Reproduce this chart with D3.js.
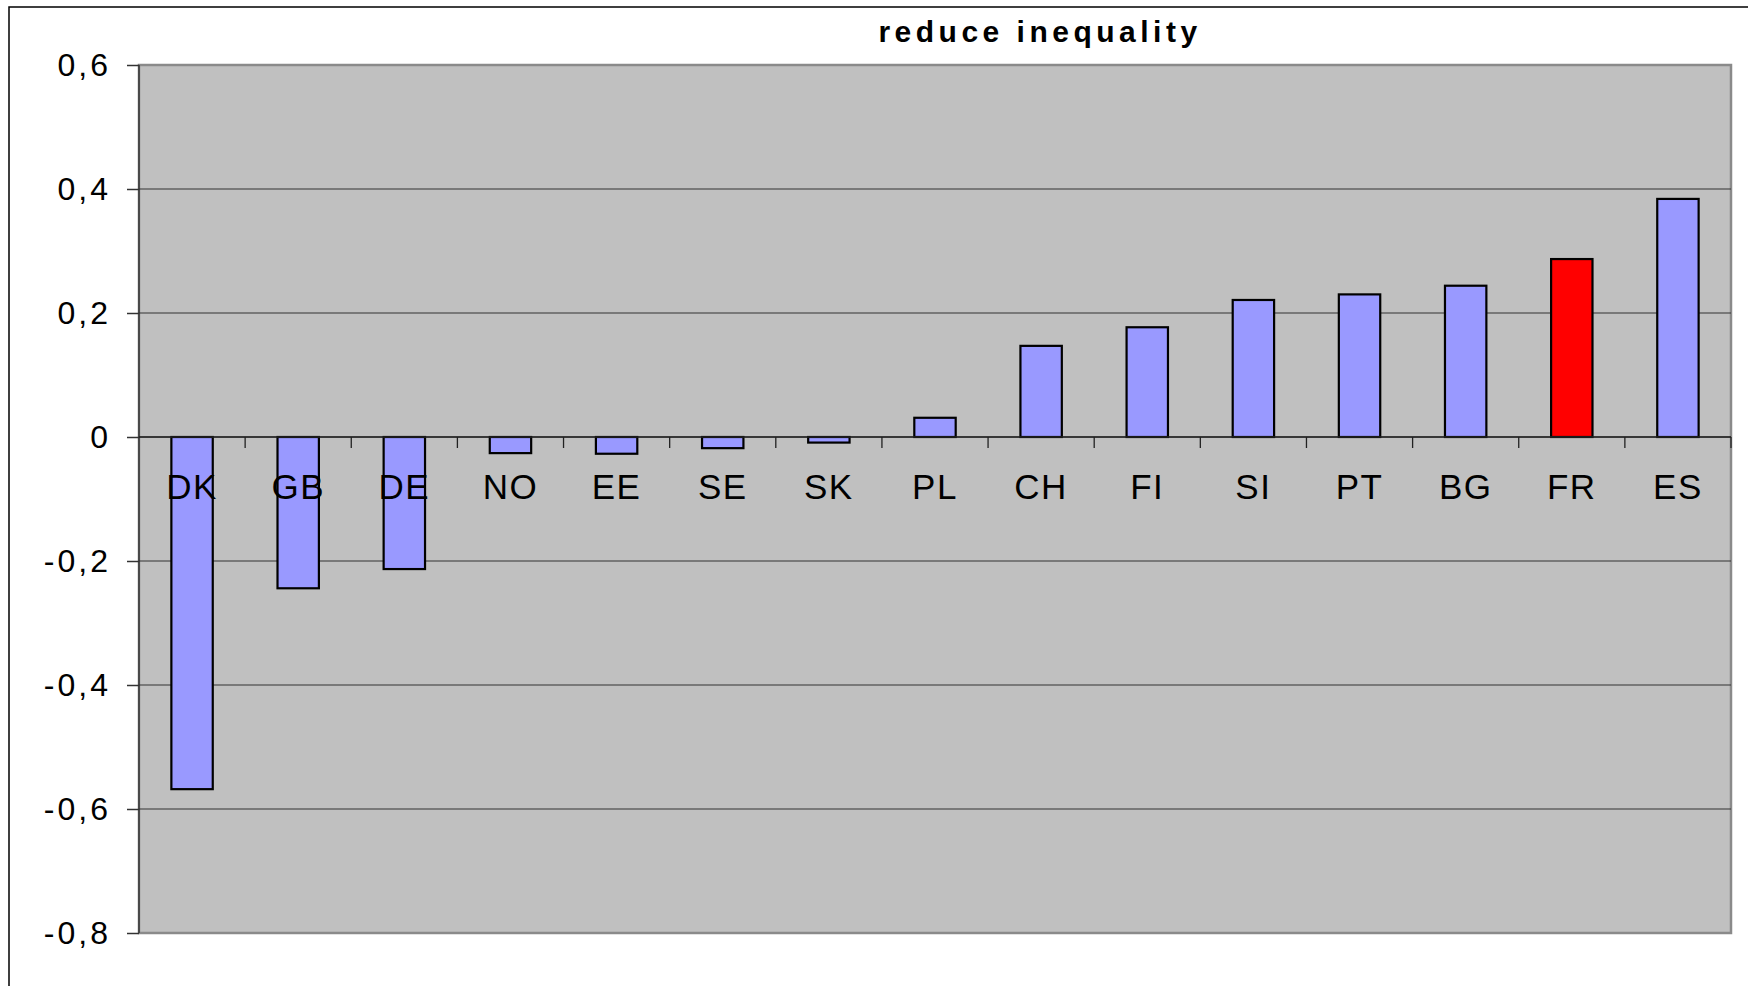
<!DOCTYPE html>
<html>
<head>
<meta charset="utf-8">
<script src="https://cdn.jsdelivr.net/npm/d3@7"></script>
<style>
  body { margin: 0; background: #fff; }
  text { font-family: Arial, "Liberation Sans", sans-serif; }
</style>
</head>
<body>
<div id="chart"></div>
<script>
// data
var countries = ["DK", "GB", "DE", "NO", "EE", "SE", "SK", "PL", "CH", "FI", "SI", "PT", "BG", "FR", "ES"];
var values = [-0.568, -0.244, -0.213, -0.026, -0.027, -0.018, -0.009, 0.031, 0.147, 0.177, 0.221, 0.230, 0.244, 0.287, 0.384];
var highlight = ["FR"];
var yTicks = [0.6, 0.4, 0.2, 0, -0.2, -0.4, -0.6, -0.8];
var title = "reduce inequality";

var cfg = {
  w: 1748,
  h: 986,
  margin: {top: 65, right: 17, bottom: 53, left: 139},
  barFill: "#9999ff",
  hiFill: "#ff0000",
  plotFill: "#c0c0c0"
};

var graphW = cfg.w - cfg.margin.left - cfg.margin.right;
var graphH = cfg.h - cfg.margin.top - cfg.margin.bottom;

var root = d3.select("#chart")
  .append("svg")
  .attr("width", cfg.w)
  .attr("height", cfg.h);

// outer frame (only top and left edges visible in the picture)
root.append("rect")
  .attr("x", 9).attr("y", 7)
  .attr("width", cfg.w + 20).attr("height", cfg.h + 20)
  .attr("fill", "none")
  .attr("stroke", "#000")
  .attr("stroke-width", 1.5);

var svg = root.append("g")
  .attr("transform", "translate(" + cfg.margin.left + "," + cfg.margin.top + ")");

var x = d3.scaleBand()
  .domain(countries)
  .range([0, graphW])
  .paddingInner(0.61)
  .paddingOuter(0.305);

var xBand = d3.scaleBand().domain(countries).range([0, graphW]);

var y = d3.scaleLinear()
  .domain([-0.8, 0.6])
  .range([graphH, 0]);

// plot background
svg.append("rect")
  .attr("width", graphW).attr("height", graphH)
  .attr("fill", cfg.plotFill)
  .attr("stroke", "#8a8a8a")
  .attr("stroke-width", 2.5);

// gridlines
svg.append("g")
  .selectAll("line")
  .data(yTicks.filter(function(d) { return d !== 0.6 && d !== -0.8; }))
  .enter().append("line")
  .attr("x1", 0).attr("x2", graphW)
  .attr("y1", function(d) { return y(d); })
  .attr("y2", function(d) { return y(d); })
  .attr("stroke", "#333")
  .attr("stroke-width", 1.2);

// Y axis
var yAxis = svg.append("g")
  .call(d3.axisLeft(y)
    .tickValues(yTicks)
    .tickSize(12)
    .tickPadding(16)
    .tickFormat(function(d) { return d === 0 ? "0" : String(d).replace(".", ","); }));
yAxis.select(".domain").attr("stroke", "#333").attr("stroke-width", 1.5).attr("d", "M0,0V" + graphH);
yAxis.selectAll(".tick line").attr("stroke", "#333").attr("stroke-width", 1.5);
yAxis.selectAll(".tick text")
  .attr("font-size", "32px")
  .attr("letter-spacing", "3px")
  .attr("fill", "#000")
  .style("font-family", "Arial, 'Liberation Sans', sans-serif");

// bars
svg.append("g")
  .selectAll("rect")
  .data(countries)
  .enter().append("rect")
  .attr("x", function(d) { return x(d); })
  .attr("width", x.bandwidth())
  .attr("y", function(d, i) { return y(Math.max(0, values[i])); })
  .attr("height", function(d, i) { return Math.abs(y(values[i]) - y(0)); })
  .attr("fill", function(d) { return highlight.indexOf(d) >= 0 ? cfg.hiFill : cfg.barFill; })
  .attr("stroke", "#000")
  .attr("stroke-width", 2.2);

// category axis on the zero line
var xAxis = svg.append("g")
  .attr("transform", "translate(0," + y(0) + ")");
xAxis.append("line")
  .attr("x1", 0).attr("x2", graphW)
  .attr("stroke", "#222").attr("stroke-width", 1.5);
xAxis.selectAll(".sep")
  .data(countries.slice(1).concat(["end"]))
  .enter().append("line")
  .attr("class", "sep")
  .attr("x1", function(d, i) { return xBand.step() * (i + 1); })
  .attr("x2", function(d, i) { return xBand.step() * (i + 1); })
  .attr("y1", 0).attr("y2", 11)
  .attr("stroke", "#222").attr("stroke-width", 1.3);
xAxis.selectAll(".lab")
  .data(countries)
  .enter().append("text")
  .attr("class", "lab")
  .attr("x", function(d) { return xBand(d) + xBand.bandwidth() / 2; })
  .attr("y", 62)
  .attr("text-anchor", "middle")
  .attr("font-size", "35px")
  .attr("letter-spacing", "1.5px")
  .attr("fill", "#000")
  .text(function(d) { return d; });

// title
root.append("text")
  .attr("x", 1040)
  .attr("y", 42)
  .attr("text-anchor", "middle")
  .attr("font-size", "30px")
  .attr("font-weight", "bold")
  .attr("letter-spacing", "4.5px")
  .attr("fill", "#000")
  .text(title);
</script>
</body>
</html>
